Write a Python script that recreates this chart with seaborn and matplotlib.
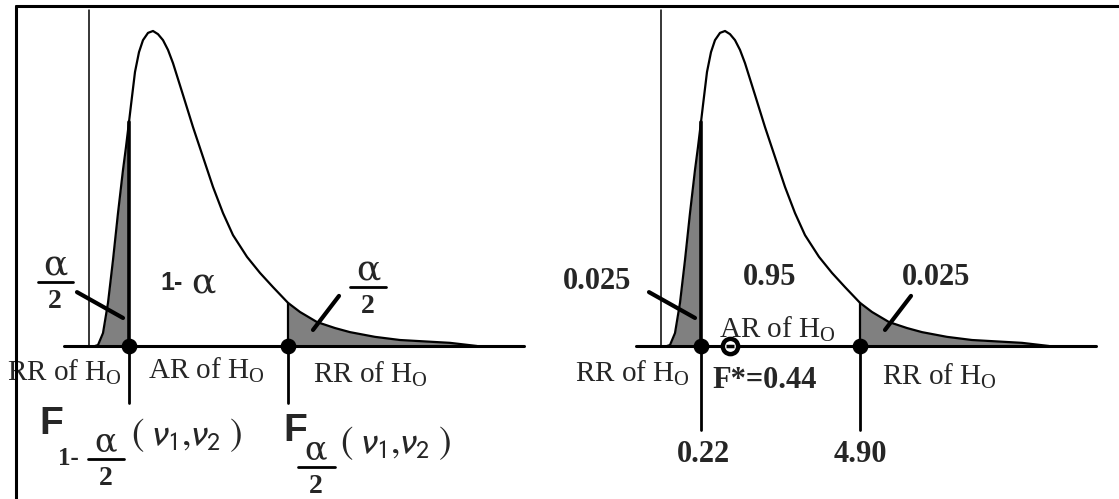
import numpy as np
import matplotlib
matplotlib.use("Agg")
import matplotlib.pyplot as plt
import seaborn as sns
from matplotlib.lines import Line2D

# F density shape
# x: distance from the vertical axis, y: height relative to the peak
curve_x = [0.06, 0.09, 0.14, 0.19, 0.24, 0.29, 0.34, 0.37, 0.40, 0.42, 0.46, 0.50,
           0.54, 0.59, 0.64, 0.69, 0.74, 0.79, 0.84, 0.94, 1.04, 1.14, 1.24, 1.34,
           1.44, 1.58, 1.71, 1.84, 1.99, 2.11, 2.28, 2.46, 2.61, 2.86, 3.11, 3.61, 3.88]
curve_y = [0.0, 0.003, 0.041, 0.137, 0.273, 0.422, 0.559, 0.632, 0.711, 0.765, 0.870, 0.933,
           0.971, 0.994, 1.0, 0.990, 0.971, 0.940, 0.898, 0.797, 0.695, 0.600, 0.505, 0.422,
           0.352, 0.283, 0.232, 0.187, 0.137, 0.108, 0.076, 0.057, 0.044, 0.029, 0.019, 0.010, 0.0]

# critical points (drawing positions) and the observed statistic
crit_lo = 0.40
crit_hi = 1.99
f_star = 0.69

crit_labels = ["0.22", "4.90"]
tail_area = "0.025"
mid_area = "0.95"
stat_label = "F*=0.44"

sns.set_style("white")
plt.rcParams["font.family"] = ["Liberation Serif", "DejaVu Serif"]
plt.rcParams["mathtext.fontset"] = "custom"
plt.rcParams["mathtext.rm"] = "Liberation Serif"
plt.rcParams["mathtext.it"] = "Liberation Serif:italic"
plt.rcParams["mathtext.bf"] = "Liberation Serif:bold"

W, H = 1119, 499
fig = plt.figure(figsize=(W / 100, H / 100), dpi=100)
ylo, yhi = (346 - H) / 315, 346 / 315
axl = fig.add_axes([0, 0, 560 / W, 1])
axr = fig.add_axes([560 / W, 0, 559 / W, 1])
axl.set_xlim(-0.89, 4.71)
axr.set_xlim(-1.01, 4.58)

xs = np.array(curve_x)
ys = np.array(curve_y)
y_lo = curve_y[curve_x.index(crit_lo)]
y_hi = curve_y[curve_x.index(crit_hi)]

RR = r"RR of H$_\mathrm{O}$"
AR = r"AR of H$_\mathrm{O}$"
NU = r"$(\ \nu_1,\!\nu_2\ )$"
ALPHA = "DejaVu Serif"


def draw_panel(ax, drop):
    ax.set_ylim(ylo, yhi)
    ax.axis("off")
    lo = xs <= crit_lo
    hi = xs >= crit_hi
    ax.fill_between(xs[lo], ys[lo], color="#808080", lw=0)
    ax.fill_between(xs[hi], ys[hi], color="#808080", lw=0)
    sns.lineplot(x=curve_x, y=curve_y, ax=ax, color="black", lw=1.6,
                 sort=False, estimator=None)
    ax.plot([0, 0], [0, 1.067], color="black", lw=1.1)
    ax.plot([-0.25, 4.35], [0, 0], color="black", lw=2.2)
    ax.plot([crit_lo, crit_lo], [0, y_lo], color="black", lw=2.6)
    ax.plot([crit_hi, crit_hi], [0, y_hi], color="black", lw=1.6)
    ax.plot([crit_lo, crit_lo], [drop, 0], color="black", lw=2.0)
    ax.plot([crit_hi, crit_hi], [drop, 0], color="black", lw=2.0)
    sns.scatterplot(x=[crit_lo, crit_hi], y=[0, 0], ax=ax, color="black",
                    s=110, edgecolor="black", zorder=5)
    # leader lines to the tails
    ax.plot([-0.12, 0.34], [0.171, 0.089], color="black", lw=3)
    ax.plot([2.50, 2.24], [0.159, 0.051], color="black", lw=3)


def frac(ax, x, y, top_size, bot_size, half):
    ax.text(x, y + 0.054, "α", fontsize=top_size, family=ALPHA, ha="center", va="center")
    ax.plot([x - half, x + half], [y, y], color="black", lw=2.0)
    ax.text(x, y - 0.062, "2", fontsize=bot_size, fontweight="bold",
            ha="center", va="center")


# left panel: general case
draw_panel(axl, -0.181)
frac(axl, -0.34, 0.203, 26, 20, 0.175)
frac(axl, 2.79, 0.187, 26, 20, 0.18)
axl.text(0.83, 0.2, "1-", fontsize=18, fontweight="bold", family="Liberation Sans",
         ha="center", va="center")
axl.text(1.14, 0.2, "α", fontsize=26, family=ALPHA, ha="center", va="center")
axl.text(-0.82, -0.083, RR, fontsize=21, ha="left", va="center")
axl.text(0.59, -0.076, AR, fontsize=21, ha="left", va="center")
axl.text(2.24, -0.09, RR, fontsize=21, ha="left", va="center")

axl.text(-0.38, -0.248, "F", fontsize=28, fontweight="bold", family="Liberation Sans",
         ha="center", va="center")
axl.text(-0.21, -0.356, "1-", fontsize=18, fontweight="bold", ha="center", va="center")
frac(axl, 0.17, -0.359, 24, 20, 0.18)
axl.text(0.42, -0.283, NU, fontsize=27, math_fontfamily="stixsans", ha="left", va="center")

axl.text(2.06, -0.27, "F", fontsize=28, fontweight="bold", family="Liberation Sans",
         ha="center", va="center")
frac(axl, 2.27, -0.384, 24, 20, 0.185)
axl.text(2.51, -0.308, NU, fontsize=27, math_fontfamily="stixsans", ha="left", va="center")

# right panel: worked example
draw_panel(axr, -0.267)
axr.plot([f_star], [0], marker="o", ms=11, mfc="white", mec="black", mew=3.2, zorder=6)
axr.plot([f_star], [0], marker="_", ms=6, mec="black", mew=2.5, zorder=7)
axr.text(-0.64, 0.206, tail_area, fontsize=22, fontweight="bold", ha="center", va="center")
axr.text(1.09, 0.219, mid_area, fontsize=22, fontweight="bold", ha="center", va="center")
axr.text(2.75, 0.219, tail_area, fontsize=22, fontweight="bold", ha="center", va="center")
axr.text(0.58, 0.054, AR, fontsize=21, ha="left", va="center")
axr.text(-0.86, -0.086, RR, fontsize=21, ha="left", va="center")
axr.text(2.21, -0.098, RR, fontsize=21, ha="left", va="center")
axr.text(0.51, -0.108, stat_label, fontsize=22, fontweight="bold", ha="left", va="center")
axr.text(crit_lo + 0.02, -0.346, crit_labels[0], fontsize=22, fontweight="bold",
         ha="center", va="center")
axr.text(crit_hi, -0.346, crit_labels[1], fontsize=22, fontweight="bold",
         ha="center", va="center")

# frame on the top and left edges
fig.add_artist(Line2D([16 / W, 1], [1 - 6 / H, 1 - 6 / H], color="black", lw=2.2,
                      transform=fig.transFigure))
fig.add_artist(Line2D([16 / W, 16 / W], [0, 1 - 6 / H], color="black", lw=2.2,
                      transform=fig.transFigure))

fig.savefig("out.png", dpi=100)
